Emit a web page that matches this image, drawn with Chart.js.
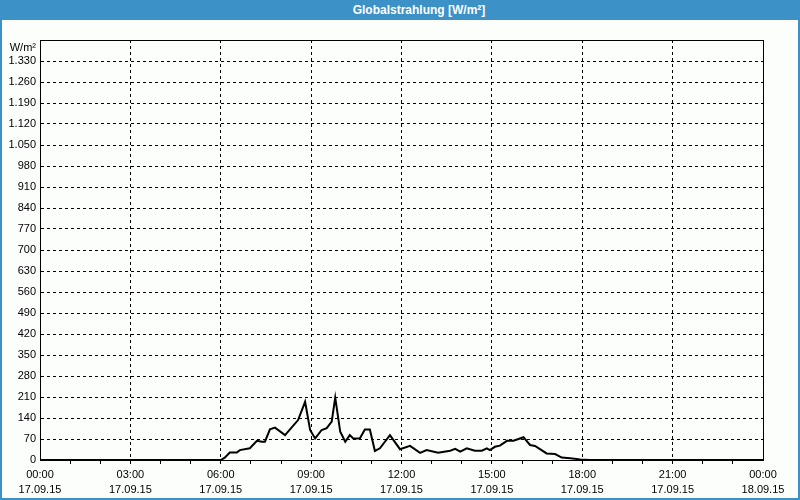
<!DOCTYPE html>
<html>
<head>
<meta charset="utf-8">
<script src="https://cdn.jsdelivr.net/npm/chart.js@4.4.0/dist/chart.umd.min.js"></script>
<style>
  body { margin: 0; background: #fff; }
  #frame { position: relative; width: 800px; height: 500px; background: #fcfefc; }
  #box { position: absolute; left: 0; top: 0; width: 800px; height: 500px; }
  #head { position: absolute; left: 0; top: 0; width: 800px; height: 20px; background: #3c91c7; box-sizing: border-box;
          padding-left: 38px; color: #fff; font: bold 12px "Liberation Sans", sans-serif; line-height: 20px; text-align: center; }
  #edge { position: absolute; left: 0; top: 0; width: 800px; height: 500px; box-sizing: border-box;
          border: 2px solid #3c91c7; border-top: 0; pointer-events: none; }
</style>
</head>
<body>
<div id="frame">
  <div id="box"><canvas id="chartStrahlung"></canvas></div>
  <div id="head">Globalstrahlung [W/m²]</div>
  <div id="edge"></div>
</div>
<script>
// Messzeitpunkte in Minuten ab 17.09.15 00:00
const minutes = [0, 360, 368, 378, 392, 398, 418, 432, 442, 448, 458, 468, 488, 514, 528, 538, 548,
  561, 571, 581, 588, 598, 608, 617, 624, 637, 647, 657, 667, 677, 697, 717, 737, 757, 770, 793,
  817, 827, 837, 850, 866, 880, 890, 896, 906, 916, 930, 943, 953, 963, 976, 986, 1009, 1026,
  1039, 1056, 1076, 1095, 1440];
// Globalstrahlung W/m²
const radiation = [0, 0, 8, 25, 25, 33, 39, 64, 61, 61, 102, 108, 83, 133, 194, 100, 72,
  100, 106, 128, 208, 94, 61, 83, 72, 72, 102, 102, 30, 39, 83, 36, 47, 24, 33, 24,
  31, 37, 28, 39, 31, 31, 39, 33, 44, 48, 64, 64, 70, 76, 50, 47, 22, 20,
  8, 6, 2, 0, 0];

const xTickTimes = ['00:00', '03:00', '06:00', '09:00', '12:00', '15:00', '18:00', '21:00', '00:00'];
const xTickDates = ['17.09.15', '17.09.15', '17.09.15', '17.09.15', '17.09.15', '17.09.15', '17.09.15', '17.09.15', '18.09.15'];
const yUnit = 'W/m²';

const labelFont = { family: '"Liberation Sans", sans-serif', size: 11, lineHeight: '15px' };

function fmtDe(v) {
  const s = String(v);
  return v >= 1000 ? s.slice(0, s.length - 3) + '.' + s.slice(-3) : s;
}

// Rahmen um die Zeichenfläche
const frameBorder = {
  id: 'frameBorder',
  beforeDatasetsDraw(chart) {
    const a = chart.chartArea, c = chart.ctx;
    c.save();
    c.strokeStyle = '#000';
    c.lineWidth = 1;
    c.strokeRect(Math.round(a.left) + 0.5, Math.round(a.top) + 0.5, Math.round(a.right - a.left), Math.round(a.bottom - a.top));
    c.restore();
  }
};

new Chart(document.getElementById('chartStrahlung'), {
  type: 'line',
  data: {
    datasets: [{
      data: minutes.map((m, i) => ({ x: m, y: radiation[i] })),
      borderColor: '#000',
      borderWidth: 2,
      pointRadius: 0,
      tension: 0,
      fill: false
    }]
  },
  options: {
    responsive: true,
    maintainAspectRatio: false,
    animation: false,
    layout: { padding: { top: 40, right: 37, left: 0, bottom: 0 } },
    plugins: { legend: { display: false }, tooltip: { enabled: false } },
    scales: {
      x: {
        type: 'linear',
        min: 0,
        max: 1440,
        afterFit(s) { s.height = 40; s.paddingLeft = 0; s.paddingRight = 0; },
        ticks: {
          stepSize: 60,
          autoSkip: false,
          maxRotation: 0,
          padding: 3,
          color: '#000',
          font: labelFont,
          callback: v => v % 180 === 0 ? [xTickTimes[v / 180], xTickDates[v / 180]] : ''
        },
        grid: {
          color: c => (c.tick && c.tick.value % 180 === 0 && c.tick.value > 0 && c.tick.value < 1440) ? '#000' : 'rgba(0,0,0,0)',
          tickColor: c => (c.tick && c.tick.value > 0 && c.tick.value < 1440) ? '#000' : 'rgba(0,0,0,0)',
          tickLength: 4,
          tickBorderDash: []
        },
        border: { color: '#000', width: 1, dash: [3, 3] }
      },
      y: {
        min: 0,
        max: 1400,
        afterFit(s) { s.width = 40; s.paddingTop = 0; s.paddingBottom = 0; },
        ticks: {
          stepSize: 70,
          autoSkip: false,
          padding: 4,
          color: '#000',
          font: labelFont,
          // Einheit leicht unter die Oberkante setzen
          callback: v => v === 1400 ? ['', yUnit] : fmtDe(v)
        },
        grid: {
          color: c => (c.tick && c.tick.value > 0 && c.tick.value < 1400) ? '#000' : 'rgba(0,0,0,0)',
          drawTicks: false
        },
        border: { color: '#000', width: 1, dash: [3, 3] }
      }
    }
  },
  plugins: [frameBorder]
});
</script>
</body>
</html>
